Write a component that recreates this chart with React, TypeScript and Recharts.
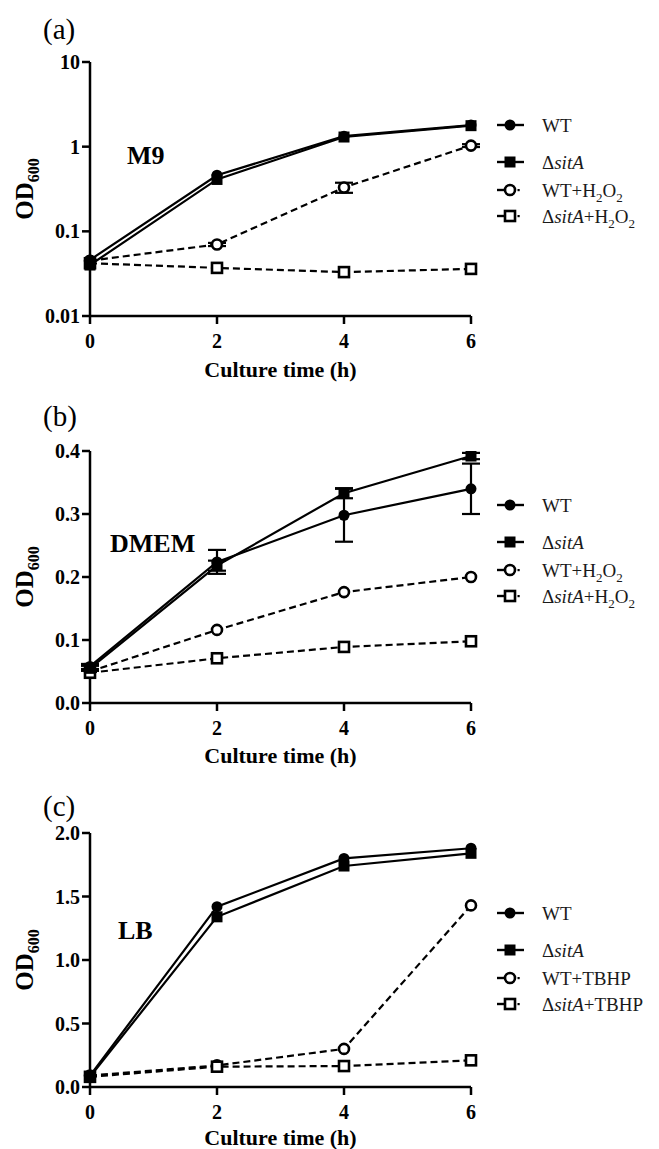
import React from 'react';
import { LineChart, Line, XAxis, YAxis, ErrorBar, Legend, Label } from 'recharts';

// ---------- data ----------
const hours = [0, 2, 4, 6];
const xTicks = [0, 2, 4, 6];

// (a) M9 (log scale)
const m9Wt = [0.046, 0.46, 1.33, 1.8];
const m9Sita = [0.04, 0.41, 1.3, 1.77];
const m9WtH2o2 = [0.045, 0.07, 0.33, 1.03];
const m9WtH2o2Err = [0, 0.003, 0.045, 0.04];
const m9SitaH2o2 = [0.042, 0.037, 0.033, 0.036];
const m9Ticks = [0.01, 0.1, 1, 10];

// (b) DMEM
const dmemWt = [0.058, 0.224, 0.298, 0.34];
const dmemWtErr = [0.004, 0.019, 0.042, 0.04];
const dmemSita = [0.055, 0.218, 0.333, 0.392];
const dmemSitaErr = [0.004, 0.008, 0.008, 0.005];
const dmemWtH2o2 = [0.05, 0.116, 0.176, 0.2];
const dmemSitaH2o2 = [0.048, 0.071, 0.089, 0.098];
const dmemTicks = [0, 0.1, 0.2, 0.3, 0.4];

// (c) LB
const lbWt = [0.09, 1.42, 1.8, 1.88];
const lbSita = [0.08, 1.34, 1.74, 1.84];
const lbWtTbhp = [0.09, 0.17, 0.3, 1.43];
const lbSitaTbhp = [0.08, 0.16, 0.165, 0.21];
const lbTicks = [0, 0.5, 1, 1.5, 2];

// ---------- helpers ----------
const SERIF = '"Liberation Serif", "Times New Roman", Times, serif';

type Shape = 'circle' | 'square' | 'openCircle' | 'openSquare';

function markerSvg(shape: Shape, cx: number, cy: number) {
  switch (shape) {
    case 'circle':
      return <circle cx={cx} cy={cy} r={5.5} fill="#000" />;
    case 'square':
      return <rect x={cx - 5.5} y={cy - 5.5} width={11} height={11} fill="#000" />;
    case 'openCircle':
      return <circle cx={cx} cy={cy} r={5} fill="#fff" stroke="#000" strokeWidth={2.6} />;
    default:
      return <rect x={cx - 5} y={cy - 5} width={10} height={10} fill="#fff" stroke="#000" strokeWidth={2.6} />;
  }
}

function makeDot(shape: Shape) {
  return (props: any) => {
    const { cx, cy, index } = props;
    if (cx == null || cy == null) return <g key={`d-${index}`} />;
    return <g key={`d-${index}`}>{markerSvg(shape, cx, cy)}</g>;
  };
}

interface Series {
  key: string;
  strain: string;
  treatment: string;
  shape: Shape;
  dashed: boolean;
  values: number[];
  err?: number[];
}

function legendText(s: Series, x: number, y: number) {
  const parts: React.ReactNode[] = [];
  if (s.strain === 'WT') {
    parts.push(<tspan key="s">WT</tspan>);
  } else {
    parts.push(<tspan key="d">Δ</tspan>);
    parts.push(<tspan key="s" fontStyle="italic">sitA</tspan>);
  }
  if (s.treatment === 'H2O2') {
    parts.push(<tspan key="p">+H</tspan>);
    parts.push(<tspan key="s1" dy={5} fontSize={13}>2</tspan>);
    parts.push(<tspan key="o" dy={-5}>O</tspan>);
    parts.push(<tspan key="s2" dy={5} fontSize={13}>2</tspan>);
  } else if (s.treatment === 'TBHP') {
    parts.push(<tspan key="p">+TBHP</tspan>);
  }
  return (
    <text x={x} y={y} fontFamily={SERIF} fontSize={19} fill="#1a1a1a">
      {parts}
    </text>
  );
}

const legendOffsets = [0, 37, 65, 91];

function LegendBox({ series }: { series: Series[] }) {
  return (
    <svg width={170} height={120} style={{ display: 'block', overflow: 'visible' }}>
      {series.map((s, i) => {
        const cy = legendOffsets[i] + 12;
        return (
          <g key={s.key}>
            {s.dashed ? (
              <g>
                <line x1={0} y1={cy} x2={8} y2={cy} stroke="#000" strokeWidth={2.4} />
                <rect x={20.5} y={cy - 1} width={2.2} height={2.2} fill="#000" />
              </g>
            ) : (
              <line x1={0} y1={cy} x2={27} y2={cy} stroke="#000" strokeWidth={2.4} />
            )}
            {markerSvg(s.shape, 13, cy)}
            {legendText(s, 45, cy + 6.5)}
          </g>
        );
      })}
    </svg>
  );
}

const tickStyle = { fontFamily: SERIF, fontWeight: 700, fontSize: 20, fill: '#000' };

interface PanelProps {
  series: Series[];
  yTicks: number[];
  log?: boolean;
  chartHeight: number;
  marginTop: number;
  xAxisHeight: number;
  titleOffset: number;
  legendTop: number;
  yFormat: (v: number) => string;
}

function Panel({ series, yTicks, log, chartHeight, marginTop, xAxisHeight, titleOffset, legendTop, yFormat }: PanelProps) {
  const rows = hours.map((h, i) => {
    const r: any = { hour: h };
    series.forEach((s) => {
      r[s.key] = s.values[i];
      if (s.err) r[s.key + 'Err'] = s.err[i];
    });
    return r;
  });
  const drawOrder = [...series.filter((s) => s.dashed), ...series.filter((s) => !s.dashed)];
  return (
    <LineChart width={659} height={chartHeight} data={rows} margin={{ top: marginTop, right: 188, bottom: 0, left: 0 }}>
      <XAxis
        dataKey="hour"
        type="number"
        domain={[0, 6]}
        ticks={xTicks}
        interval={0}
        height={xAxisHeight}
        tick={tickStyle}
        tickSize={8}
        tickMargin={10}
        axisLine={{ stroke: '#000', strokeWidth: 2.5 }}
        tickLine={{ stroke: '#000', strokeWidth: 2.5 }}
      >
        <Label
          content={(p: any) => {
            const vb = p.viewBox || { x: 90, y: 316, width: 381 };
            return (
              <text x={vb.x + vb.width / 2} y={vb.y + titleOffset} textAnchor="middle" fontFamily={SERIF} fontWeight={700} fontSize={22} fill="#000">
                Culture time (h)
              </text>
            );
          }}
        />
      </XAxis>
      <YAxis
        type="number"
        scale={log ? 'log' : 'auto'}
        domain={[yTicks[0], yTicks[yTicks.length - 1]]}
        ticks={yTicks}
        interval={0}
        allowDataOverflow
        width={90}
        tick={tickStyle}
        tickSize={8}
        tickMargin={2}
        tickFormatter={yFormat}
        axisLine={{ stroke: '#000', strokeWidth: 2.5 }}
        tickLine={{ stroke: '#000', strokeWidth: 2.5 }}
      >
        <Label
          content={(p: any) => {
            const vb = p.viewBox || { y: marginTop, height: 254 };
            const cy = vb.y + vb.height / 2;
            return (
              <text x={33} y={cy} transform={`rotate(-90 33 ${cy})`} textAnchor="middle" fontFamily={SERIF} fontWeight={700} fontSize={25} fill="#000">
                OD<tspan dy={6} fontSize={16}>600</tspan>
              </text>
            );
          }}
        />
      </YAxis>
      <Legend
        layout="horizontal"
        verticalAlign="middle"
        align="center"
        wrapperStyle={{ left: 497, top: legendTop, width: 170 }}
        content={() => <LegendBox series={series} />}
      />
      {drawOrder.map((s) => (
        <Line
          key={s.key}
          dataKey={s.key}
          type="linear"
          stroke="#000"
          strokeWidth={2.2}
          strokeDasharray={s.dashed ? '7 4' : undefined}
          isAnimationActive={false}
          activeDot={false}
          dot={makeDot(s.shape)}
        >
          {s.err ? <ErrorBar dataKey={s.key + 'Err'} width={9} strokeWidth={2.2} stroke="#000" direction="y" /> : null}
        </Line>
      ))}
    </LineChart>
  );
}

const m9Series: Series[] = [
  { key: 'wt', strain: 'WT', treatment: '', shape: 'circle', dashed: false, values: m9Wt },
  { key: 'sita', strain: 'sitA', treatment: '', shape: 'square', dashed: false, values: m9Sita },
  { key: 'wtH', strain: 'WT', treatment: 'H2O2', shape: 'openCircle', dashed: true, values: m9WtH2o2, err: m9WtH2o2Err },
  { key: 'sitaH', strain: 'sitA', treatment: 'H2O2', shape: 'openSquare', dashed: true, values: m9SitaH2o2 },
];

const dmemSeries: Series[] = [
  { key: 'wt', strain: 'WT', treatment: '', shape: 'circle', dashed: false, values: dmemWt, err: dmemWtErr },
  { key: 'sita', strain: 'sitA', treatment: '', shape: 'square', dashed: false, values: dmemSita, err: dmemSitaErr },
  { key: 'wtH', strain: 'WT', treatment: 'H2O2', shape: 'openCircle', dashed: true, values: dmemWtH2o2 },
  { key: 'sitaH', strain: 'sitA', treatment: 'H2O2', shape: 'openSquare', dashed: true, values: dmemSitaH2o2 },
];

const lbSeries: Series[] = [
  { key: 'wt', strain: 'WT', treatment: '', shape: 'circle', dashed: false, values: lbWt },
  { key: 'sita', strain: 'sitA', treatment: '', shape: 'square', dashed: false, values: lbSita },
  { key: 'wtT', strain: 'WT', treatment: 'TBHP', shape: 'openCircle', dashed: true, values: lbWtTbhp },
  { key: 'sitaT', strain: 'sitA', treatment: 'TBHP', shape: 'openSquare', dashed: true, values: lbSitaTbhp },
];

const fmt1 = (v: number) => v.toFixed(1);
const fmtLog = (v: number) => String(v);

export default function App() {
  return (
    <div style={{ position: 'absolute', left: 0, top: 0, width: 659, height: 1149, background: '#fff', overflow: 'hidden' }}>
      <div style={{ position: 'absolute', left: 0, top: 0 }}>
        <Panel series={m9Series} yTicks={m9Ticks} log chartHeight={400} marginTop={62} xAxisHeight={84} titleOffset={61} legendTop={113} yFormat={fmtLog} />
      </div>
      <div style={{ position: 'absolute', left: 0, top: 383 }}>
        <Panel series={dmemSeries} yTicks={dmemTicks} chartHeight={400} marginTop={68} xAxisHeight={80} titleOffset={60} legendTop={110} yFormat={fmt1} />
      </div>
      <div style={{ position: 'absolute', left: 0, top: 766 }}>
        <Panel series={lbSeries} yTicks={lbTicks} chartHeight={383} marginTop={67} xAxisHeight={62} titleOffset={58} legendTop={135} yFormat={fmt1} />
      </div>
      <svg width={659} height={1149} style={{ position: 'absolute', left: 0, top: 0, pointerEvents: 'none' }}>
        <g fontFamily={SERIF} fill="#000">
          <text x={43} y={39} fontSize={29}>(a)</text>
          <text x={43} y={426} fontSize={29}>(b)</text>
          <text x={43} y={816} fontSize={29}>(c)</text>
          <text x={127} y={164} fontSize={26} fontWeight={700}>M9</text>
          <text x={110} y={552} fontSize={26} fontWeight={700}>DMEM</text>
          <text x={118} y={939} fontSize={26} fontWeight={700}>LB</text>
        </g>
      </svg>
    </div>
  );
}
